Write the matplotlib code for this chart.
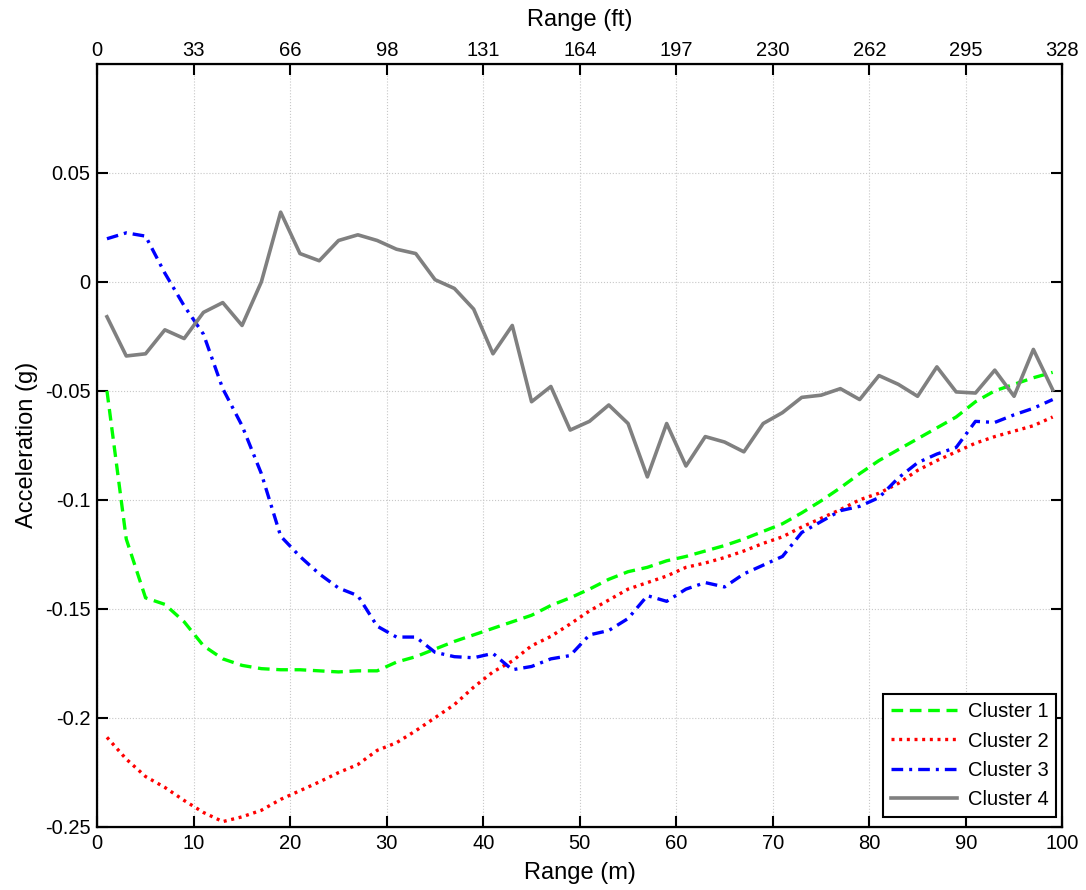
import numpy as np
import matplotlib
matplotlib.use("Agg")
import matplotlib.pyplot as plt

plt.rcParams["font.family"] = ["Liberation Sans", "DejaVu Sans"]

# range in metres, one point every 2 m
range_m = np.arange(1, 100, 2)

cluster1 = [-0.050, -0.118, -0.145, -0.148, -0.156, -0.167, -0.173, -0.176, -0.1775, -0.178,
            -0.178, -0.1785, -0.179, -0.1785, -0.1785, -0.1745, -0.172, -0.1685, -0.165, -0.162,
            -0.159, -0.156, -0.153, -0.1485, -0.145, -0.141, -0.1365, -0.133, -0.131, -0.128,
            -0.126, -0.1235, -0.121, -0.118, -0.1145, -0.111, -0.106, -0.1005, -0.0945, -0.088,
            -0.082, -0.077, -0.072, -0.067, -0.062, -0.055, -0.050, -0.047, -0.044, -0.0415]

cluster2 = [-0.209, -0.219, -0.227, -0.232, -0.238, -0.2435, -0.2477, -0.2455, -0.2425, -0.2375,
            -0.2335, -0.2295, -0.2252, -0.2215, -0.215, -0.2115, -0.206, -0.200, -0.194, -0.186,
            -0.179, -0.174, -0.167, -0.1627, -0.157, -0.151, -0.146, -0.141, -0.138, -0.135,
            -0.131, -0.129, -0.1265, -0.1235, -0.120, -0.117, -0.1125, -0.1085, -0.1045, -0.100,
            -0.097, -0.0925, -0.0865, -0.082, -0.078, -0.074, -0.071, -0.0685, -0.066, -0.062]

cluster3 = [0.0198, 0.0225, 0.021, 0.004, -0.011, -0.024, -0.049, -0.066, -0.088, -0.1167,
            -0.126, -0.134, -0.1405, -0.144, -0.158, -0.163, -0.163, -0.170, -0.172, -0.1725,
            -0.1705, -0.178, -0.1765, -0.173, -0.1715, -0.162, -0.160, -0.1545, -0.144, -0.1466,
            -0.141, -0.138, -0.140, -0.134, -0.130, -0.126, -0.115, -0.110, -0.105, -0.103,
            -0.099, -0.090, -0.083, -0.079, -0.076, -0.064, -0.0645, -0.061, -0.058, -0.054]

cluster4 = [-0.016, -0.034, -0.033, -0.022, -0.026, -0.014, -0.0095, -0.020, 0.000, 0.032,
            0.013, 0.0097, 0.019, 0.0216, 0.019, 0.015, 0.013, 0.001, -0.003, -0.0125,
            -0.033, -0.020, -0.055, -0.048, -0.068, -0.064, -0.0565, -0.065, -0.0895, -0.065,
            -0.0845, -0.071, -0.0735, -0.078, -0.065, -0.060, -0.053, -0.052, -0.049, -0.054,
            -0.043, -0.047, -0.0525, -0.039, -0.0505, -0.051, -0.0405, -0.0525, -0.031, -0.0495]

x_ticks = [0, 10, 20, 30, 40, 50, 60, 70, 80, 90, 100]
ft_labels = ["0", "33", "66", "98", "131", "164", "197", "230", "262", "295", "328"]
y_ticks = [-0.25, -0.2, -0.15, -0.1, -0.05, 0, 0.05]
y_labels = ["-0.25", "-0.2", "-0.15", "-0.1", "-0.05", "0", "0.05"]

fig = plt.figure(figsize=(10.86, 8.9), dpi=100)
ax = fig.add_axes([0.0896, 0.0712, 0.8886, 0.8569])

ax.plot(range_m, cluster1, color=(0, 1, 0), linestyle=(0, (3.5, 2)), linewidth=2.4, label="Cluster 1")
ax.plot(range_m, cluster2, color=(1, 0, 0), linestyle=(0, (0.9, 1.4)), linewidth=2.4, label="Cluster 2")
ax.plot(range_m, cluster3, color=(0, 0, 1), linestyle=(0, (3.5, 1.8, 0.9, 1.8)), linewidth=2.4, label="Cluster 3")
ax.plot(range_m, cluster4, color=(0.5, 0.5, 0.5), linestyle="-", linewidth=2.6, label="Cluster 4")

ax.set_xlim(0, 100)
ax.set_ylim(-0.25, 0.1)
ax.set_xticks(x_ticks)
ax.set_yticks(y_ticks)
ax.set_yticklabels(y_labels)
ax.grid(True, color=(0.78, 0.78, 0.78), linestyle=":", linewidth=0.8)
ax.tick_params(direction="in", length=8, width=1.5, labelsize=14.5, right=True, pad=5)
for s in ax.spines.values():
    s.set_linewidth(1.6)

ax.set_xlabel("Range (m)", fontsize=17, labelpad=7)
ax.set_ylabel("Acceleration (g)", fontsize=17, labelpad=5)

top = ax.twiny()
top.set_xlim(ax.get_xlim())
top.set_xticks(x_ticks)
top.set_xticklabels(ft_labels)
top.tick_params(direction="in", length=8, width=1.5, labelsize=14.5, pad=3)
top.set_xlabel("Range (ft)", fontsize=17, labelpad=11)

leg = ax.legend(loc="lower right", fontsize=14.5, frameon=True, fancybox=False,
                edgecolor="black", framealpha=1, handlelength=3.3, borderpad=0.4,
                labelspacing=0.5, handletextpad=0.5, borderaxespad=0,
                bbox_to_anchor=(0.9938, 0.013))
leg.get_frame().set_linewidth(1.5)

fig.savefig("out.png", dpi=100)
